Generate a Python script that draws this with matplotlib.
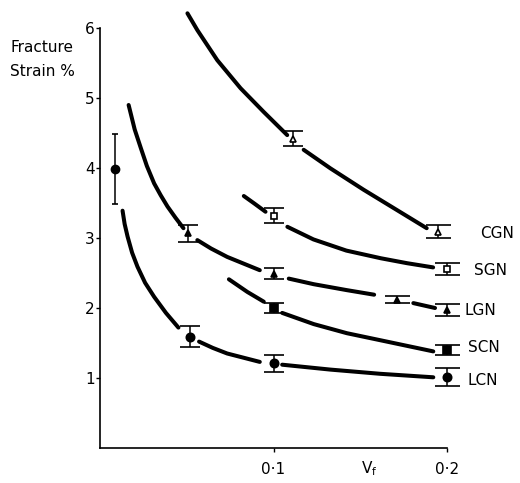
import matplotlib
matplotlib.use("Agg")
import matplotlib.pyplot as plt

# ---- data ----
series_names = ["CGN", "SGN", "LGN", "SCN", "LCN"]

cgn_x = [0.111, 0.195]
cgn_y = [4.42, 3.09]
cgn_err = [0.11, 0.09]

sgn_x = [0.100, 0.200]
sgn_y = [3.32, 2.56]
sgn_err = [0.11, 0.09]

lgn_x = [0.051, 0.100, 0.171, 0.200]
lgn_y = [3.07, 2.49, 2.12, 1.97]
lgn_err = [0.12, 0.08, 0.05, 0.09]

scn_x = [0.100, 0.200]
scn_y = [2.00, 1.40]
scn_err = [0.07, 0.07]

lcn_x = [0.0517, 0.100, 0.200]
lcn_y = [1.59, 1.21, 1.01]
lcn_err = [0.15, 0.12, 0.13]

single_x = [0.0086]
single_y = [3.99]
single_err = [0.5]

# hand-drawn curve segments (x, y)
cgn_curve = [
    [(0.0504, 6.21), (0.0561, 5.97), (0.0676, 5.54), (0.0810, 5.14), (0.0944, 4.80), (0.1079, 4.47)],
    [(0.1174, 4.26), (0.1328, 3.995), (0.1519, 3.69), (0.1711, 3.40), (0.1883, 3.14)],
]
sgn_curve = [
    [(0.0829, 3.60), (0.0891, 3.49), (0.0954, 3.375)],
    [(0.108, 3.16), (0.123, 2.98), (0.142, 2.82), (0.162, 2.71), (0.177, 2.64), (0.192, 2.58)],
]
lgn_curve = [
    [(0.0165, 4.90), (0.0185, 4.70), (0.020, 4.55), (0.0236, 4.28), (0.027, 4.03), (0.0312, 3.78),
     (0.035, 3.61), (0.0389, 3.45), (0.0435, 3.29), (0.0481, 3.14)],
    [(0.0561, 2.97), (0.064, 2.85), (0.0733, 2.73), (0.0921, 2.54)],
    [(0.1088, 2.42), (0.1232, 2.34), (0.1423, 2.255), (0.158, 2.19)],
    [(0.1806, 2.07), (0.1931, 2.00)],
]
scn_curve = [
    [(0.0743, 2.41), (0.0849, 2.23), (0.0944, 2.09)],
    [(0.105, 1.93), (0.1232, 1.77), (0.1423, 1.64), (0.1615, 1.54), (0.1921, 1.38)],
]
lcn_curve = [
    [(0.013, 3.39), (0.0142, 3.20), (0.0159, 3.02), (0.0185, 2.79), (0.0216, 2.59), (0.026, 2.36),
     (0.0312, 2.16), (0.038, 1.93), (0.0452, 1.72)],
    [(0.0571, 1.52), (0.065, 1.43), (0.0733, 1.35), (0.0921, 1.23)],
    [(0.105, 1.19), (0.1328, 1.12), (0.1615, 1.06), (0.1921, 1.01)],
]

label_x = [0.219, 0.2155, 0.2103, 0.212, 0.212]
label_y = [3.07, 2.54, 1.97, 1.43, 0.97]

y_ticks = [1, 2, 3, 4, 5, 6]
y_ticklabels = ["1", "2", "3", "4", "5", "6"]
x_ticks = [0.1, 0.2]
x_ticklabels = ["0·1", "0·2"]

# ---- figure ----
plt.rcParams['font.family'] = ['DejaVu Sans']
fig = plt.figure(figsize=(5.2, 4.83), dpi=100)
ax = fig.add_axes([100 / 520, 35 / 483, 347 / 520, 448 / 483])
ax.set_xlim(0, 0.2)
ax.set_ylim(0, 6.4)

for curve in [cgn_curve, sgn_curve, lgn_curve, scn_curve, lcn_curve]:
    for seg in curve:
        xs = [p[0] for p in seg]
        ys = [p[1] for p in seg]
        ax.plot(xs, ys, color='black', lw=2.9, solid_capstyle='round',
                solid_joinstyle='round', clip_on=False)

styles = [
    (cgn_x, cgn_y, cgn_err, '^', 'white', 5),
    (sgn_x, sgn_y, sgn_err, 's', 'white', 5),
    (lgn_x, lgn_y, lgn_err, '^', 'black', 5),
    (scn_x, scn_y, scn_err, 's', 'black', 6),
    (lcn_x, lcn_y, lcn_err, 'o', 'black', 6),
]
for xs, ys, es, mk, fc, ms in styles:
    for x, y, e in zip(xs, ys, es):
        cs = 9 if x > 0.15 else 7
        ax.errorbar([x], [y], yerr=[e], fmt=mk, mfc=fc, mec='black', ms=ms,
                    mew=1.2, ecolor='black', elinewidth=1.1, capsize=cs,
                    capthick=1.6, clip_on=False, zorder=3)

ax.errorbar(single_x, single_y, yerr=single_err, fmt='o', mfc='black', mec='black',
            ms=6, ecolor='black', elinewidth=1.1, capsize=2.5, capthick=1.2,
            clip_on=False, zorder=3)

for name, lx, ly in zip(series_names, label_x, label_y):
    ax.text(lx, ly, name, fontsize=11, ha='left', va='center', clip_on=False)

ax.spines['top'].set_visible(False)
ax.spines['right'].set_visible(False)
ax.spines['left'].set_bounds(0, 6)
ax.spines['left'].set_linewidth(1.2)
ax.spines['bottom'].set_linewidth(1.2)

ax.set_yticks(y_ticks)
ax.set_yticklabels(y_ticklabels, fontsize=11)
ax.set_xticks(x_ticks)
ax.set_xticklabels(x_ticklabels, fontsize=11)
ax.tick_params(axis='y', direction='out', length=3, width=1, pad=1)
ax.tick_params(axis='x', direction='out', length=3, width=1, pad=7)

fig.text(10 / 520, 1 - 47 / 483, "Fracture", fontsize=11, ha='left', va='center')
fig.text(10 / 520, 1 - 71 / 483, "Strain %", fontsize=11, ha='left', va='center')
ax.text(0.155, -0.29, r"V$_\mathregular{f}$", fontsize=11, ha='center', va='center',
        clip_on=False)

fig.savefig("out.png", dpi=100)
